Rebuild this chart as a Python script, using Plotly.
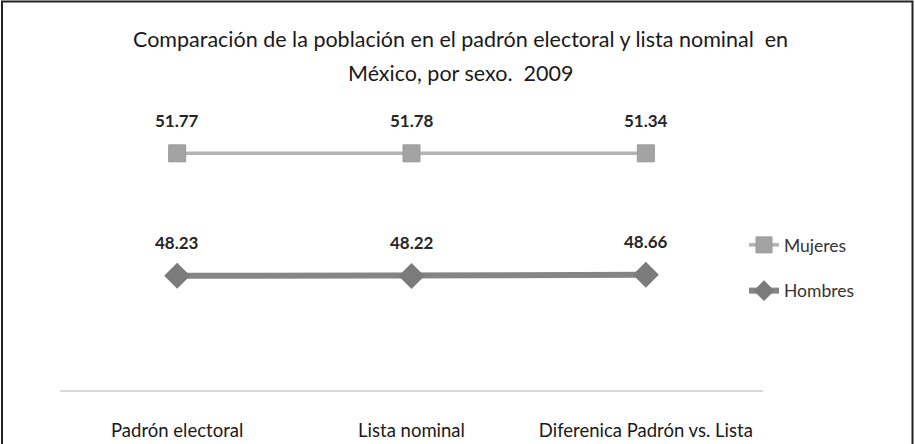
import plotly.graph_objects as go

categories = ["Padrón electoral", "Lista nominal", "Diferenica Padrón vs. Lista"]
mujeres = [51.77, 51.78, 51.34]
hombres = [48.23, 48.22, 48.66]
title_line1 = "Comparación de la población en el padrón electoral y lista nominal  en"
title_line2 = "México, por sexo.  2009"

# stacked line chart (100% stack): Hombres first, Mujeres on top
stack_h = hombres
stack_m = [h + m for h, m in zip(hombres, mujeres)]

FONT = "Lato"
fig = go.Figure()
fig.add_trace(go.Scatter(
    x=categories, y=stack_m, name="Mujeres", mode="lines+markers",
    line=dict(color="#b3b3b3", width=3.5),
    marker=dict(symbol="square", size=17, color="#a3a3a3", line=dict(color="#9a9a9a", width=1)),
    legendgroup="m",
))
fig.add_trace(go.Scatter(
    x=categories, y=stack_h, name="Hombres", mode="lines+markers",
    line=dict(color="#858585", width=6),
    marker=dict(symbol="diamond", size=20, color="#7b7b7b", line=dict(color="#7b7b7b", width=0)),
    legendgroup="h",
))

annotations = []
for c, y, v in zip(categories, stack_m, mujeres):
    annotations.append(dict(x=c, y=y, text=f"{v:.2f}", showarrow=False, yshift=33,
                            font=dict(family=FONT, size=17, color="#262626", weight="bold")))
for c, y, v in zip(categories, stack_h, hombres):
    annotations.append(dict(x=c, y=y, text=f"{v:.2f}", showarrow=False, yshift=33,
                            font=dict(family=FONT, size=17, color="#262626", weight="bold")))

L, R, T, B = 60, 152, 106, 54
W, H = 915, 444
pw, ph = W - L - R, H - T - B

def px_x(px):
    return (px - L) / pw

def px_y(py):
    return (H - B - py) / ph

annotations.append(dict(xref="paper", yref="paper", x=px_x(460), y=px_y(39), text=title_line1,
                        showarrow=False, xanchor="center", yanchor="middle",
                        font=dict(family=FONT, size=21.5, color="#1a1a1a")))
annotations.append(dict(xref="paper", yref="paper", x=px_x(460), y=px_y(73), text=title_line2,
                        showarrow=False, xanchor="center", yanchor="middle",
                        font=dict(family=FONT, size=21.5, color="#1a1a1a")))

fig.update_layout(
    width=W, height=H,
    margin=dict(l=L, r=R, t=T, b=B, pad=0, autoexpand=False),
    paper_bgcolor="white", plot_bgcolor="white",
    font=dict(family=FONT, size=16, color="#262626"),
    showlegend=True,
    legend=dict(x=px_x(744), y=px_y(227), xanchor="left", yanchor="top",
                font=dict(family=FONT, size=17.5, color="#333333"),
                tracegroupgap=20, bgcolor="rgba(0,0,0,0)"),
    annotations=annotations,
    shapes=[dict(type="rect", xref="paper", yref="paper",
                 x0=px_x(2), x1=px_x(912.5), y0=px_y(460), y1=px_y(1.5),
                 line=dict(color="#222222", width=2), layer="above")],
)
fig.update_xaxes(type="category", range=[-0.5, 2.5], showgrid=False, zeroline=False,
                 showline=True, linecolor="#d9d9d9", linewidth=2, ticks="", automargin=False,
                 ticklabelstandoff=23, tickfont=dict(family=FONT, size=18.5, color="#1a1a1a"))
fig.update_yaxes(range=[0, 120], visible=False, showgrid=False, zeroline=False, automargin=False)

fig.write_html("out.html", config={"displayModeBar": False},
               post_script="document.body.style.margin='0';")
